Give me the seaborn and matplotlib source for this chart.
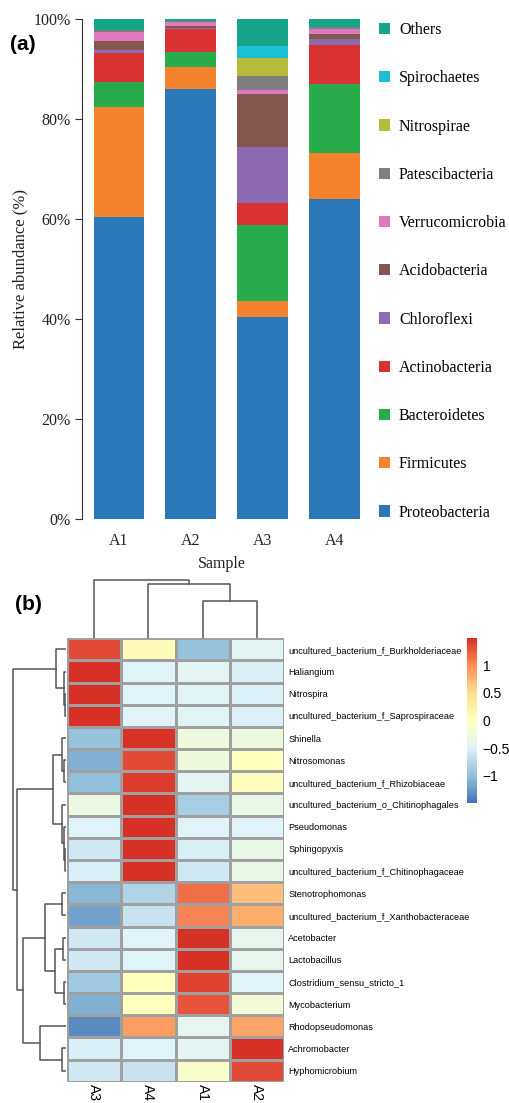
import numpy as np
import pandas as pd
import matplotlib
matplotlib.use('Agg')
import matplotlib.pyplot as plt
import seaborn as sns
from matplotlib.colors import LinearSegmentedColormap
from matplotlib.patches import Patch

# ---- panel (a): relative abundance of phyla ----
samples = ['A1', 'A2', 'A3', 'A4']
phyla = ['Proteobacteria', 'Firmicutes', 'Bacteroidetes', 'Actinobacteria', 'Chloroflexi',
         'Acidobacteria', 'Verrucomicrobia', 'Patescibacteria', 'Nitrospirae', 'Spirochaetes', 'Others']
phylum_colors = ['#2b78b8', '#f5822d', '#28ab4a', '#d93232', '#8c6bb1',
                 '#845750', '#de79be', '#7f7f7f', '#b5bc3b', '#1cbfd3', '#17a589']

proteobacteria = [60.5, 86.0, 40.5, 64.1]
firmicutes = [21.9, 4.4, 3.1, 9.2]
bacteroidetes = [4.9, 3.1, 15.3, 13.8]
actinobacteria = [5.8, 4.6, 4.4, 7.7]
chloroflexi = [0.7, 0.2, 11.2, 1.3]
acidobacteria = [1.8, 0.4, 10.5, 0.9]
verrucomicrobia = [1.7, 0.8, 0.9, 1.0]
patescibacteria = [0.6, 0.1, 2.8, 0.4]
nitrospirae = [0.0, 0.0, 3.4, 0.0]
spirochaetes = [0.0, 0.0, 2.5, 0.0]
others = [2.1, 0.4, 5.4, 1.6]

# ---- panel (b): z-scored genus abundance heatmap ----
genera = ['uncultured_bacterium_f_Burkholderiaceae', 'Haliangium', 'Nitrospira',
          'uncultured_bacterium_f_Saprospiraceae', 'Shinella', 'Nitrosomonas',
          'uncultured_bacterium_f_Rhizobiaceae', 'uncultured_bacterium_o_Chitinophagales',
          'Pseudomonas', 'Sphingopyxis', 'uncultured_bacterium_f_Chitinophagaceae',
          'Stenotrophomonas', 'uncultured_bacterium_f_Xanthobacteraceae', 'Acetobacter',
          'Lactobacillus', 'Clostridium_sensu_stricto_1', 'Mycobacterium',
          'Rhodopseudomonas', 'Achromobacter', 'Hyphomicrobium']
heat_samples = ['A3', 'A4', 'A1', 'A2']
z_a3 = [1.35, 1.5, 1.5, 1.5, -0.95, -1.1, -1.0, -0.3, -0.5, -0.6,
        -0.55, -1.05, -1.2, -0.6, -0.6, -0.9, -1.1, -1.35, -0.55, -0.6]
z_a4 = [0.05, -0.5, -0.5, -0.5, 1.48, 1.35, 1.42, 1.5, 1.5, 1.5,
        1.5, -0.8, -0.65, -0.5, -0.5, 0.0, 0.0, 0.9, -0.5, -0.65]
z_a1 = [-0.95, -0.45, -0.48, -0.47, -0.25, -0.25, -0.45, -0.85, -0.5, -0.55,
        -0.6, 1.15, 1.05, 1.5, 1.5, 1.4, 1.3, -0.4, -0.45, -0.1]
z_a2 = [-0.45, -0.55, -0.52, -0.53, -0.28, 0.0, 0.03, -0.35, -0.5, -0.35,
        -0.35, 0.7, 0.8, -0.4, -0.4, -0.5, -0.2, 0.85, 1.5, 1.35]

# dendrogram merges: (child a, child b, height); ids >= n are earlier merges
row_merges = [(2, 3, 1), (1, 20, 2), (0, 21, 10), (5, 6, 2), (4, 23, 4),
              (9, 10, 1), (8, 25, 2), (7, 26, 4), (24, 27, 13), (11, 12, 4),
              (13, 14, 3), (15, 16, 2), (30, 31, 11), (29, 32, 21), (18, 19, 4),
              (17, 34, 26), (33, 35, 43), (28, 36, 49), (22, 37, 53)]
col_merges = [(2, 3, 37), (1, 4, 54), (0, 5, 58)]

W, H = 510, 1103
fig = plt.figure(figsize=(W / 100, H / 100), dpi=100)
plt.rcParams['font.family'] = ['Liberation Serif', 'DejaVu Serif']


def px_axes(l, t, r, b):
    return fig.add_axes([l / W, 1 - b / H, (r - l) / W, (b - t) / H])


# stacked bars
ax = px_axes(82, 19, 361, 519)
layers = [proteobacteria, firmicutes, bacteroidetes, actinobacteria, chloroflexi,
          acidobacteria, verrucomicrobia, patescibacteria, nitrospirae, spirochaetes, others]
bar_df = pd.DataFrame(dict(zip(phyla, layers)), index=samples)
cum = bar_df.cumsum(axis=1)
for name, color in reversed(list(zip(phyla, phylum_colors))):
    sns.barplot(x=samples, y=cum[name].values, color=color, saturation=1,
                width=0.7, errorbar=None, edgecolor='none', ax=ax)
ax.set_xlim(-0.51, 3.37)
ax.set_ylim(0, 100)
ax.set_yticks([0, 20, 40, 60, 80, 100])
ax.set_yticklabels([f'{v}%' for v in [0, 20, 40, 60, 80, 100]])
for s in ['top', 'right', 'bottom']:
    ax.spines[s].set_visible(False)
ax.spines['left'].set_color('#333333')
ax.tick_params(axis='y', length=5, color='#333333', labelsize=11.5, labelcolor='#222222', pad=3)
ax.tick_params(axis='x', length=0, labelsize=11.5, labelcolor='#222222', pad=10)
ax.set_xlabel('Sample', fontsize=11.5, color='#222222', labelpad=5)
ax.set_ylabel('Relative abundance (%)', fontsize=12, color='#222222', labelpad=4)

handles = [Patch(facecolor=c, edgecolor='none') for c in phylum_colors][::-1]
fig.legend(handles, phyla[::-1], loc='upper left', bbox_to_anchor=(379 / W, 1 - 22 / H),
           frameon=False, fontsize=11.5, handlelength=0.7, handleheight=0.7,
           handletextpad=0.55, labelspacing=2.02, borderpad=0, borderaxespad=0)

fig.text(10 / W, 1 - 44 / H, '(a)', fontsize=15, fontweight='bold',
         family='Liberation Sans', va='center')
fig.text(15 / W, 1 - 605 / H, '(b)', fontsize=15, fontweight='bold',
         family='Liberation Sans', va='center')

# heatmap
heat = pd.DataFrame(dict(zip(heat_samples, [z_a3, z_a4, z_a1, z_a2])), index=genera)
cmap = LinearSegmentedColormap.from_list(
    'rdylbu7', ['#4575b4', '#91bfdb', '#e0f3f8', '#ffffbf', '#fee090', '#fc8d59', '#d73027'])
hax = px_axes(67, 638.3, 284, 1081.7)
cax = px_axes(467, 638, 477, 803)
sns.heatmap(heat, cmap=cmap, vmin=-1.5, vmax=1.5, linewidths=0.8, linecolor='#a0a0a0',
            ax=hax, cbar_ax=cax)
hax.yaxis.tick_right()
hax.tick_params(axis='y', length=0, pad=3, labelsize=6.6, labelrotation=0)
hax.tick_params(axis='x', length=0, pad=2, labelsize=10)
for t in hax.get_yticklabels():
    t.set_family('Liberation Sans')
for t in hax.get_xticklabels():
    t.set_family('Liberation Sans')
    t.set_rotation(270)
    t.set_va('top')
hax.set_xlabel('')
hax.set_ylabel('')

cb = hax.collections[0].colorbar
cb.outline.set_visible(False)
cb.set_ticks([-1, -0.5, 0, 0.5, 1], labels=['\u22121', '\u22120.5', '0', '0.5', '1'])
cax.tick_params(length=0, labelsize=10, pad=4)
for t in cax.get_yticklabels():
    t.set_family('Liberation Sans')


def dendro_segments(merges, n):
    pos = {i: i + 0.5 for i in range(n)}
    hgt = {i: 0.0 for i in range(n)}
    segs = []
    for k, (a, b, h) in enumerate(merges):
        segs.append(([hgt[a], h, h, hgt[b]], [pos[a], pos[a], pos[b], pos[b]]))
        pos[n + k] = (pos[a] + pos[b]) / 2
        hgt[n + k] = h
    return segs


rax = px_axes(10, 638.3, 66, 1081.7)
for hs, ps in dendro_segments(row_merges, len(genera)):
    rax.plot(hs, ps, color='#555555', lw=1.1)
rax.set_xlim(56, 0)
rax.set_ylim(len(genera), 0)
rax.axis('off')

dax = px_axes(67, 575, 284, 638.3)
for hs, ps in dendro_segments(col_merges, len(heat_samples)):
    dax.plot(ps, hs, color='#555555', lw=1.1)
dax.set_xlim(0, len(heat_samples))
dax.set_ylim(0, 63.3)
dax.axis('off')

fig.savefig('out.png', dpi=100)
